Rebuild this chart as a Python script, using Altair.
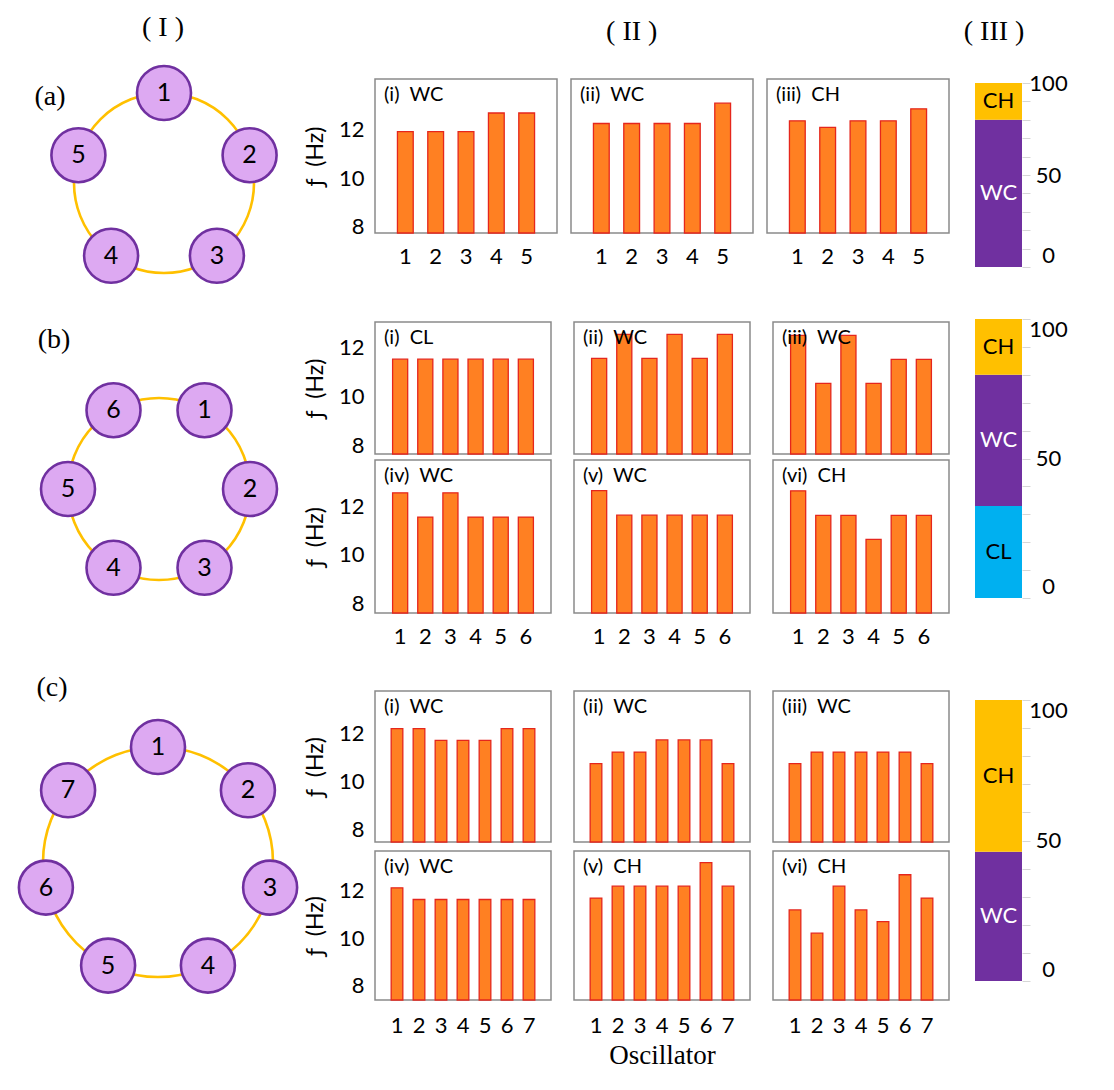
import math
import altair as alt
import pandas as pd

# ---------------- data ----------------
# Row (a): 5 oscillators
a_i = [11.9, 11.9, 11.9, 12.66, 12.66]
a_ii = [12.23, 12.23, 12.23, 12.23, 13.06]
a_iii = [12.34, 12.07, 12.34, 12.34, 12.83]
labels_a = ["(i)", "(ii)", "(iii)"]
modes_a = ["WC", "WC", "CH"]

# Row (b): 6 oscillators
b_i = [11.54, 11.54, 11.54, 11.54, 11.54, 11.54]
b_ii = [11.57, 12.56, 11.57, 12.56, 11.57, 12.56]
b_iii = [12.52, 10.54, 12.52, 10.54, 11.53, 11.53]
b_iv = [12.55, 11.55, 12.55, 11.55, 11.55, 11.55]
b_v = [12.64, 11.63, 11.63, 11.63, 11.63, 11.63]
b_vi = [12.63, 11.62, 11.62, 10.63, 11.62, 11.62]
labels_b = ["(i)", "(ii)", "(iii)", "(iv)", "(v)", "(vi)"]
modes_b = ["CL", "WC", "WC", "WC", "WC", "CH"]

# Row (c): 7 oscillators
c_i = [12.21, 12.21, 11.72, 11.72, 11.72, 12.21, 12.21]
c_ii = [10.75, 11.23, 11.23, 11.74, 11.74, 11.74, 10.75]
c_iii = [10.75, 11.23, 11.23, 11.23, 11.23, 11.23, 10.75]
c_iv = [12.13, 11.64, 11.64, 11.64, 11.64, 11.64, 11.64]
c_v = [11.7, 12.2, 12.2, 12.2, 12.2, 13.19, 12.2]
c_vi = [11.2, 10.22, 12.2, 11.2, 10.71, 12.68, 11.7]
labels_c = ["(i)", "(ii)", "(iii)", "(iv)", "(v)", "(vi)"]
modes_c = ["WC", "WC", "WC", "WC", "CH", "CH"]

# Column III: share of each mode (%)
modes = ["CL", "WC", "CH"]
share_a = [0, 80, 20]
share_b = [33, 47, 20]
share_c = [0, 46, 54]
share_ticks = [0, 10, 20, 30, 40, 50, 60, 70, 80, 90, 100]
share_labels = [0, 50, 100]

ring_nodes = [5, 6, 7]
ring_tags = ["(a)", "(b)", "(c)"]
headers = ["( I )", "( II )", "( III )"]
ylab_ticks = [8, 10, 12]

# ---------------- style ----------------
FONT = "Lato"
SERIF = "Liberation Serif"
BAR_FILL = "#FF8022"
BAR_STROKE = "#E5261C"
FRAME = "#8a8a8a"
GOLD = "#FFC000"
PURPLE = "#7030A0"
LILAC = "#DDA9F2"
MODE_COLORS = ["#00B0F0", "#7030A0", "#FFC000"]
MODE_TEXT = ["black", "white", "black"]
NB = "\u00a0"


def panel(values, label, mode, width, height, ydom, show_y, show_x, pin, xpad, xtitle=None):
    n = len(values)
    df = pd.DataFrame({"osc": list(range(1, n + 1)), "f": values, "base": [ydom[0]] * n})
    pout = 0.5 + pin / 2
    xscale = alt.Scale(paddingInner=pin, paddingOuter=pout)
    if show_x:
        if xtitle:
            xax = alt.Axis(labelAngle=0, labelFontSize=22, labelFont=FONT, labelColor="black",
                           ticks=False, domain=False, labelPadding=xpad,
                           titleFont=SERIF, titleFontSize=27, titleFontWeight="normal",
                           titleColor="black", titlePadding=6)
            xenc = alt.X("osc:O", axis=xax, title=xtitle, scale=xscale)
        else:
            xax = alt.Axis(labelAngle=0, labelFontSize=22, labelFont=FONT, labelColor="black",
                           ticks=False, domain=False, labelPadding=xpad)
            xenc = alt.X("osc:O", axis=xax, title=None, scale=xscale)
    else:
        xenc = alt.X("osc:O", axis=None, scale=xscale)
    yscale = alt.Scale(domain=ydom, nice=False, zero=False)
    if show_y:
        yax = alt.Axis(values=ylab_ticks, labelFontSize=22, labelFont=FONT, labelColor="black",
                       ticks=False, domain=False, grid=False, labelPadding=11,
                       titleFont=FONT, titleFontSize=23, titleFontWeight="normal",
                       titleColor="black", titlePadding=11)
        yenc = alt.Y("f:Q", scale=yscale, axis=yax, title="ƒ" + NB + NB + "(Hz)")
    else:
        yenc = alt.Y("f:Q", scale=yscale, axis=None)
    bars = alt.Chart(df).mark_bar(fill=BAR_FILL, stroke=BAR_STROKE, strokeWidth=1.3).encode(
        x=xenc, y=yenc, y2="base:Q")
    txt = alt.Chart(pd.DataFrame({"t": [label + NB + NB + mode]})).mark_text(
        align="left", baseline="middle", fontSize=20, font=FONT, color="black"
    ).encode(x=alt.value(9), y=alt.value(16), text="t:N")
    return alt.layer(bars, txt).properties(
        width=width, height=height,
        view=alt.ViewBackground(stroke=FRAME, strokeWidth=1.5))


def stack(shares, height, ymax=100):
    df = pd.DataFrame({"mode": modes, "pct": shares, "k": [0, 1, 2],
                       "tc": MODE_TEXT, "col": ["s"] * 3})
    df = df[df["pct"] > 0]
    base = alt.Chart(df).transform_stack(
        stack="pct", groupby=[], as_=["y0", "y1"],
        sort=[alt.SortField("k", order="ascending")]
    ).transform_calculate(mid="(datum.y0 + datum.y1) / 2")
    lab_ax = alt.Axis(orient="right", values=share_labels,
                      labelFontSize=22, labelFont=FONT, labelColor="black",
                      labelAlign="center", labelPadding=26, labelFlush=True, labelOverlap=False,
                      ticks=False, domain=False, grid=False)
    tick_ax = alt.Axis(orient="right", values=share_ticks, labels=False,
                       tickColor="#d6d6d6", tickSize=8, tickWidth=1, domain=False, grid=False)
    xenc = alt.X("col:N", axis=None, scale=alt.Scale(paddingInner=0, paddingOuter=0))
    bars = base.mark_bar().encode(
        x=xenc,
        y=alt.Y("y1:Q", scale=alt.Scale(domain=[0, ymax], nice=False), axis=lab_ax, title=None),
        y2="y0:Q",
        color=alt.Color("mode:N", scale=alt.Scale(domain=modes, range=MODE_COLORS), legend=None),
    )
    txt = base.mark_text(fontSize=22, font=FONT).encode(
        x=xenc,
        y=alt.Y("mid:Q", scale=alt.Scale(domain=[0, ymax], nice=False), axis=tick_ax, title=None),
        text="mode:N",
        color=alt.Color("tc:N", scale=None))
    return alt.layer(bars, txt).resolve_scale(y="independent").resolve_axis(
        y="independent").properties(
        width=47, height=height, view=alt.ViewBackground(stroke="transparent"))


COL1_LEFT = 13
COL1_W = 280


def ring(idx, start_deg, cx, cy, r, top, height, tag_xy, header_xy=None):
    n = ring_nodes[idx]
    ang = [math.radians(start_deg - 360.0 * i / n) for i in range(n)]
    nodes = pd.DataFrame({"u": [math.cos(a) for a in ang],
                          "v": [math.sin(a) for a in ang],
                          "lab": [str(i + 1) for i in range(n)]})
    xs = alt.Scale(domain=[(COL1_LEFT - cx) / r, (COL1_LEFT + COL1_W - cx) / r], nice=False, zero=False)
    ys = alt.Scale(domain=[(cy - (top + height)) / r, (cy - top) / r], nice=False, zero=False)
    X = alt.X("u:Q", scale=xs, axis=None)
    Y = alt.Y("v:Q", scale=ys, axis=None)
    loop = alt.Chart(pd.DataFrame({"u": [0.0], "v": [0.0]})).mark_point(
        shape="circle", filled=False, size=(2 * r) ** 2, color=GOLD, strokeWidth=2.6, opacity=1
    ).encode(x=X, y=Y)
    dots = alt.Chart(nodes).mark_circle(
        size=54 ** 2, fill=LILAC, stroke=PURPLE, strokeWidth=2.6, opacity=1, fillOpacity=1
    ).encode(x=X, y=Y)
    nums = alt.Chart(nodes).mark_text(fontSize=25, font=FONT, color="black",
                                      baseline="middle", align="center").encode(x=X, y=Y, text="lab:N")
    layers = [loop, dots, nums]
    tag = alt.Chart(pd.DataFrame({"t": [ring_tags[idx]]})).mark_text(
        font=SERIF, fontSize=28, color="black", align="center", baseline="middle"
    ).encode(x=alt.value(tag_xy[0] - COL1_LEFT), y=alt.value(tag_xy[1] - top), text="t:N")
    layers.append(tag)
    if header_xy is not None:
        hd = alt.Chart(pd.DataFrame({"t": [headers[0]]})).mark_text(
            font=SERIF, fontSize=28, color="black", align="center", baseline="middle"
        ).encode(x=alt.value(header_xy[0] - COL1_LEFT), y=alt.value(header_xy[1] - top), text="t:N")
        layers.append(hd)
    return alt.layer(*layers).properties(
        width=COL1_W, height=height, view=alt.ViewBackground(stroke="transparent"))


# ---------------- column I ----------------
ringA = ring(0, 90, 158, 182, 90, 78, 222, (44, 96), header_xy=(157, 27))
ringB = ring(1, 60, 153, 486, 91, 300, 340, (48, 337))
ringC = ring(2, 90, 152, 857, 115, 640, 420, (46, 683))
col1 = alt.vconcat(ringA, ringB, ringC, spacing=0)

# ---------------- column II ----------------
dom_a = [7.75, 14.05]
dom_bt = [7.63, 13.07]
dom_bb = [7.6, 13.9]
dom_ct = [7.48, 13.78]
dom_cb = [7.41, 13.68]

gridA = alt.hconcat(
    panel(a_i, labels_a[0], modes_a[0], 182, 154, dom_a, True, True, 0.48, 13),
    panel(a_ii, labels_a[1], modes_a[1], 182, 154, dom_a, False, True, 0.48, 13),
    panel(a_iii, labels_a[2], modes_a[2], 182, 154, dom_a, False, True, 0.48, 13),
    spacing=12)

gridB = alt.vconcat(
    alt.hconcat(
        panel(b_i, labels_b[0], modes_b[0], 176, 132, dom_bt, True, False, 0.4, 13),
        panel(b_ii, labels_b[1], modes_b[1], 176, 132, dom_bt, False, False, 0.4, 13),
        panel(b_iii, labels_b[2], modes_b[2], 176, 132, dom_bt, False, False, 0.4, 13),
        spacing=21),
    alt.hconcat(
        panel(b_iv, labels_b[3], modes_b[3], 176, 153, dom_bb, True, True, 0.4, 13),
        panel(b_v, labels_b[4], modes_b[4], 176, 153, dom_bb, False, True, 0.4, 13),
        panel(b_vi, labels_b[5], modes_b[5], 176, 153, dom_bb, False, True, 0.4, 13),
        spacing=21),
    spacing=2)

gridC = alt.vconcat(
    alt.hconcat(
        panel(c_i, labels_c[0], modes_c[0], 176, 151, dom_ct, True, False, 0.47, 15),
        panel(c_ii, labels_c[1], modes_c[1], 176, 151, dom_ct, False, False, 0.47, 15),
        panel(c_iii, labels_c[2], modes_c[2], 176, 151, dom_ct, False, False, 0.47, 15),
        spacing=21),
    alt.hconcat(
        panel(c_iv, labels_c[3], modes_c[3], 176, 149, dom_cb, True, True, 0.47, 15),
        panel(c_v, labels_c[4], modes_c[4], 176, 149, dom_cb, False, True, 0.47, 15, xtitle="Oscillator"),
        panel(c_vi, labels_c[5], modes_c[5], 176, 149, dom_cb, False, True, 0.47, 15),
        spacing=21),
    spacing=6)

col2 = alt.vconcat(
    gridA, alt.vconcat(gridB, gridC, spacing=42), spacing=53,
    title=alt.Title(headers[1], font=SERIF, fontSize=28, fontWeight="normal", color="black",
                    anchor="middle", dx=5, offset=32))

# ---------------- column III ----------------
col3 = alt.vconcat(
    stack(share_a, 188, ymax=102.2),
    alt.vconcat(stack(share_b, 279), stack(share_c, 281), spacing=99),
    spacing=49,
    title=alt.Title(headers[2], font=SERIF, fontSize=28, fontWeight="normal", color="black",
                    anchor="middle", dx=-27, offset=26))

chart = alt.hconcat(alt.hconcat(col1, col2, spacing=0), col3, spacing=13).configure_view(
    stroke="transparent")

chart.save("out.html", embed_options={"renderer": "svg", "actions": False})
